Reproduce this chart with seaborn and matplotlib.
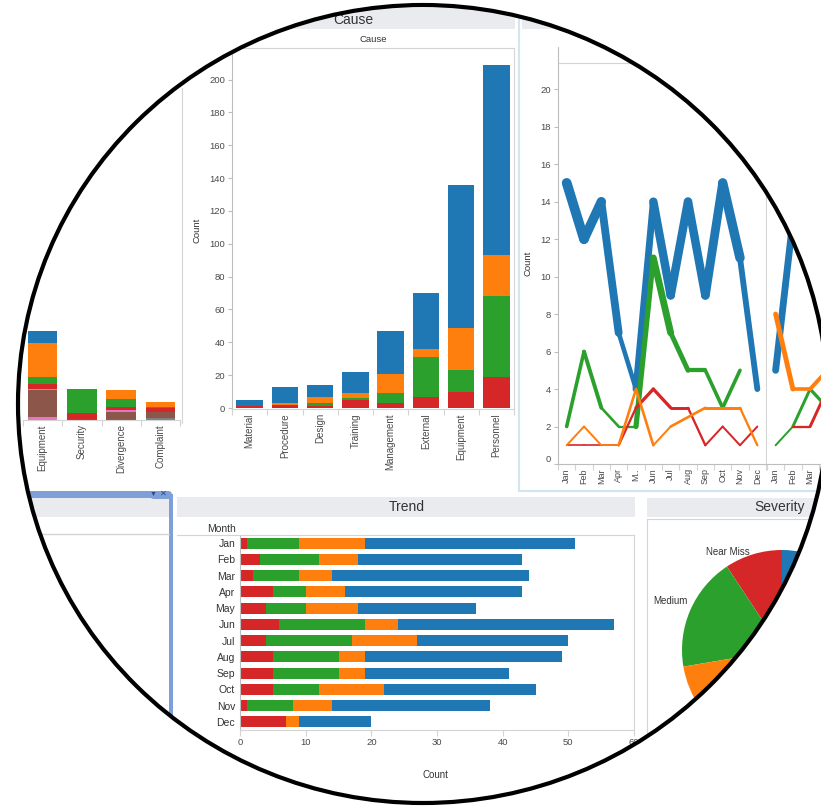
import numpy as np
import pandas as pd
import matplotlib.pyplot as plt
import matplotlib.patches as mpatches
from matplotlib.path import Path
from matplotlib.transforms import Affine2D
import seaborn as sns

# ---------------- data ----------------
months = ["Jan", "Feb", "Mar", "Apr", "May", "Jun", "Jul", "Aug", "Sep", "Oct", "Nov", "Dec"]
line1_ticks = ["Jan", "Feb", "Mar", "Apr", "M..", "Jun", "Jul", "Aug", "Sep", "Oct", "Nov", "Dec"]
line2_ticks = ["Jan", "Feb", "Mar"] + [""] * 9   # the rest lies outside the picture
severity = ["Near Miss", "Medium", "Minor", "Low"]
red, green, orange, blue = "#d62728", "#2ca02c", "#ff7f0e", "#1f77b4"
sev_colors = [red, green, orange, blue]

causes = ["Material", "Procedure", "Design", "Training", "Management", "External", "Equipment", "Personnel"]
cause_red = [1, 2, 1, 5, 3, 7, 10, 19]
cause_green = [0, 0, 2, 1, 6, 24, 13, 49]
cause_orange = [0, 1, 4, 3, 12, 5, 26, 25]
cause_blue = [4, 10, 7, 13, 26, 34, 87, 116]

trend_red = [1, 3, 2, 5, 4, 6, 4, 5, 5, 5, 1, 7]
trend_green = [8, 9, 7, 5, 6, 13, 13, 10, 10, 7, 7, 0]
trend_orange = [10, 6, 5, 6, 8, 5, 10, 4, 4, 10, 6, 2]
trend_blue = [32, 25, 30, 27, 18, 33, 23, 30, 22, 23, 24, 11]

types = ["Equipment", "Security", "Divergence", "Complaint"]
type_grey = [0, 0, 0, 1]
type_pink = [2, 0, 0, 0]
type_brown = [16, 0, 5, 4]
type_pink2 = [1, 0, 1, 0]
type_red = [3, 4, 2, 2]
type_green = [4, 15, 5, 1]
type_orange = [21, 0, 5, 3]
type_blue = [7, 0, 0, 0]
type_colors = ["#7f7f7f", "#e377c2", "#8c564b", "#e377c2", red, green, orange, blue]

nan = np.nan
line1_blue = [15, 12, 14, 7, 4, 14, 9, 14, 9, 15, 11, 4]
line1_green = [2, 6, 3, 2, 2, 11, 7, 5, 5, 3, 5, nan]
line1_red = [1, 1, 1, 1, 3, 4, 3, 3, 1, 2, 1, 2]
line1_orange = [1, 2, 1, 1, 4, 1, 2, nan, 3, 3, 3, 1]
line2_blue = [5, 13, nan, nan]
line2_green = [1, 2, 4, 3]
line2_red = [nan, 2, 2, 4]
line2_orange = [8, 4, 4, 5]

# ---------------- setup ----------------
sns.set_theme(style="white")
plt.rcParams['font.family'] = ['Liberation Sans', 'DejaVu Sans']

W, H = 821, 806
fig = plt.figure(figsize=(W / 100, H / 100), dpi=100)
fig.patch.set_facecolor("white")
px = Affine2D().scale(1 / W, -1 / H).translate(0, 1) + fig.transFigure

TXT = "#333333"
LBL = "#4a4a4a"
GRID = "#d4d4d4"
AXL = "#bdbdbd"
BAND = "#e9ebef"


def box(x0, y0, x1, y1):
    return [x0 / W, 1 - y1 / H, (x1 - x0) / W, (y1 - y0) / H]


def rect(x0, y0, x1, y1, color, z=1):
    fig.add_artist(mpatches.Rectangle((x0, y0), x1 - x0, y1 - y0, transform=px,
                                      facecolor=color, lw=0, zorder=z))


def line(xs, ys, color, lw=1.0, z=2):
    fig.add_artist(plt.Line2D(xs, ys, transform=px, color=color, lw=lw, zorder=z))


def label(x, y, s, size, **kw):
    kw.setdefault("color", TXT)
    kw.setdefault("ha", "center")
    kw.setdefault("va", "center")
    fig.text(x, y, s, transform=px, fontsize=size, **kw)


def stacked(ax, cats, layers, colors, horizontal=False, width=0.75):
    cum = np.cumsum(np.array(layers, dtype=float), axis=0)
    for i in range(len(layers) - 1, -1, -1):
        df = pd.DataFrame({"cat": cats, "val": cum[i], "part": layers[i]})
        df = df[df["part"] > 0]
        if horizontal:
            sns.barplot(data=df, x="val", y="cat", order=cats, orient="h", color=colors[i],
                        saturation=1, width=width, errorbar=None, linewidth=0, ax=ax)
        else:
            sns.barplot(data=df, x="cat", y="val", order=cats, color=colors[i],
                        saturation=1, width=width, errorbar=None, linewidth=0, ax=ax)
    ax.set_xlabel("")
    ax.set_ylabel("")


def var_line(ax, vals, color):
    v = np.array(vals, dtype=float)
    idx = np.where(~np.isnan(v))[0]
    for a, b in zip(idx[:-1], idx[1:]):
        w = (1.0 + 0.65 * (v[a] + v[b]) / 2) / 1.389
        ax.plot([a, b], [v[a], v[b]], color=color, lw=w, solid_capstyle="round", zorder=3)


def cat_ticks(ax, labels, size):
    n = len(labels)
    ax.set_xticks(range(n))
    ax.set_xticklabels(labels, rotation=90)
    ax.set_xticks(np.arange(-0.5, n, 1), minor=True)
    ax.tick_params(axis="x", which="major", bottom=False, length=0, pad=3,
                   labelsize=size, labelcolor=LBL)
    ax.tick_params(axis="x", which="minor", bottom=True, length=4, width=0.8, color=GRID)


# ---------------- left (type) chart ----------------
axl = fig.add_axes(box(23, 88, 180, 420))
stacked(axl, types, [type_grey, type_pink, type_brown, type_pink2, type_red,
                     type_green, type_orange, type_blue], type_colors, width=0.75)
axl.set_xlim(-0.5, 3.5)
axl.set_ylim(0, 202)
axl.set_yticks([])
cat_ticks(axl, types, 7)
for s in ["left", "top", "right"]:
    axl.spines[s].set_visible(False)
axl.spines["bottom"].set_color(GRID)
axl.spines["bottom"].set_linewidth(0.8)
line([182, 182], [88, 423], GRID, 0.8)

# ---------------- cause chart ----------------
rect(180, 8, 515, 29, BAND)
label(353, 20, "Cause", 10)
label(373, 39, "Cause", 6.8)
axc = fig.add_axes(box(232, 48, 514, 409))
stacked(axc, causes, [cause_red, cause_green, cause_orange, cause_blue], sev_colors, width=0.75)
axc.set_xlim(-0.5, 7.5)
axc.set_ylim(-0.6, 219.2)
axc.set_yticks(range(0, 201, 20))
cat_ticks(axc, causes, 7)
axc.tick_params(axis="y", left=True, length=3, width=0.8, color=AXL, pad=2,
                labelsize=6.8, labelcolor=LBL)
for s in axc.spines.values():
    s.set_color(GRID)
    s.set_linewidth(0.8)
axc.spines["left"].set_color(AXL)
label(197, 230, "Count", 6.8, rotation=90)

# ---------------- line chart panels ----------------
rect(522, 0, 821, 29, BAND)
line([519, 519], [0, 491], "#d3e5ee", 1.6)
line([519, 821], [491, 491], "#d3e5ee", 1.6)
line([558, 558], [47, 63], AXL, 0.8)

ax1 = fig.add_axes(box(558, 63, 766, 464))
for vals, c in [(line1_blue, blue), (line1_green, green), (line1_red, red), (line1_orange, orange)]:
    var_line(ax1, vals, c)
ax1.set_xlim(-0.5, 11.5)
ax1.set_ylim(0, 21.4)
ax1.set_yticks(range(0, 21, 2))
cat_ticks(ax1, line1_ticks, 6.5)
ax1.tick_params(axis="y", left=True, length=3, width=0.8, color=AXL, pad=2,
                labelsize=6.8, labelcolor=LBL)
ax1.get_yticklabels()[0].set_verticalalignment("bottom")
for s in ax1.spines.values():
    s.set_color(GRID)
    s.set_linewidth(0.8)
ax1.spines["left"].set_color(AXL)
ax1.spines["bottom"].set_color(AXL)
label(528, 263, "Count", 6.8, rotation=90)

ax2 = fig.add_axes(box(767, 63, 974, 464))
for vals, c in [(line2_blue, blue), (line2_green, green), (line2_red, red), (line2_orange, orange)]:
    var_line(ax2, vals, c)
ax2.set_xlim(-0.5, 11.5)
ax2.set_ylim(0, 21.4)
ax2.set_yticks([])
cat_ticks(ax2, line2_ticks, 6.5)
for s in ax2.spines.values():
    s.set_color(GRID)
    s.set_linewidth(0.8)
ax2.spines["left"].set_visible(False)
ax2.spines["bottom"].set_color(AXL)

# ---------------- bottom-left selected panel ----------------
rect(0, 491, 166, 498, "#7f9fd8", 2)
fig.add_artist(mpatches.FancyBboxPatch((150, 491), 22, 8, boxstyle="round,pad=0,rounding_size=4",
                                       transform=px, facecolor="#7f9fd8", lw=0, zorder=2))
rect(169, 494, 173, 740, "#7f9fd8", 2)
rect(0, 498, 169, 517, BAND)
line([0, 169], [534, 534], GRID, 1.0)
label(153, 494, "\u25BC", 5, color="#2b4b8c")
label(163, 494.5, "\u2715", 6, color="#2b4b8c")

# ---------------- trend chart ----------------
rect(177, 497, 635, 517, BAND)
label(407, 507, "Trend", 10)
label(222, 529, "Month", 7.5)
line([177, 240], [535, 535], GRID, 0.8)
axt = fig.add_axes(box(240, 535, 634, 730))
stacked(axt, months, [trend_red, trend_green, trend_orange, trend_blue], sev_colors,
        horizontal=True, width=0.68)
axt.set_xlim(0, 60)
axt.set_ylim(11.5, -0.5)
axt.set_xticks(range(0, 61, 10))
axt.set_yticks(range(12))
axt.set_yticklabels(months)
axt.tick_params(axis="x", bottom=True, length=4, width=0.8, color=GRID, pad=1.5,
                labelsize=6.8, labelcolor=LBL)
axt.tick_params(axis="y", left=False, length=0, pad=3.5, labelsize=7.5, labelcolor=TXT)
for s in axt.spines.values():
    s.set_color(GRID)
    s.set_linewidth(0.8)
axt.spines["left"].set_color(AXL)
label(435, 775, "Count", 7)

# ---------------- severity pie ----------------
rect(647, 498, 821, 517, BAND)
label(780, 507, "Severity", 10)
line([647, 821], [519, 519], GRID, 0.8)
line([647, 647], [519, 806], GRID, 0.8)
axp = fig.add_axes(box(682, 550, 882, 750))
sev_totals = [sum(trend_red), sum(trend_green), sum(trend_orange), sum(trend_blue)]
axp.pie(sev_totals, colors=sev_colors, startangle=90, counterclock=True, radius=1,
        wedgeprops=dict(linewidth=0))
axp.set_xlim(-1, 1)
axp.set_ylim(-1, 1)
fr = np.cumsum([0] + sev_totals) / sum(sev_totals)
nudge = [12, 0, 0]
# the label of the last slice lies beyond the right edge of the picture
for i, name in enumerate(severity[:3]):
    ang = np.deg2rad(90 + 360 * (fr[i] + fr[i + 1]) / 2 + nudge[i])
    dist = 1.12 if i == 0 else 1.22
    axp.text(dist * np.cos(ang), dist * np.sin(ang), name, ha="center", va="center",
             fontsize=7, color=TXT, clip_on=False)

# ---------------- oval mask ----------------
cx, cy, rx, ry = 423, 404, 405, 399
t = np.linspace(2 * np.pi, 0, 400)
circ = np.column_stack([cx + rx * np.cos(t), cy + ry * np.sin(t)])
outer = np.array([[-20, -20], [W + 20, -20], [W + 20, H + 20], [-20, H + 20], [-20, -20]])
verts = np.vstack([outer, circ, circ[:1]])
codes = ([Path.MOVETO] + [Path.LINETO] * 3 + [Path.CLOSEPOLY]
         + [Path.MOVETO] + [Path.LINETO] * (len(circ) - 1) + [Path.CLOSEPOLY])
fig.add_artist(mpatches.PathPatch(Path(verts, codes), transform=px, facecolor="white",
                                  lw=0, zorder=100))
fig.add_artist(mpatches.Ellipse((cx, cy), 2 * rx, 2 * ry, transform=px, fill=False, ec="black",
                                lw=3, zorder=101))

fig.savefig("out.png", dpi=100)
